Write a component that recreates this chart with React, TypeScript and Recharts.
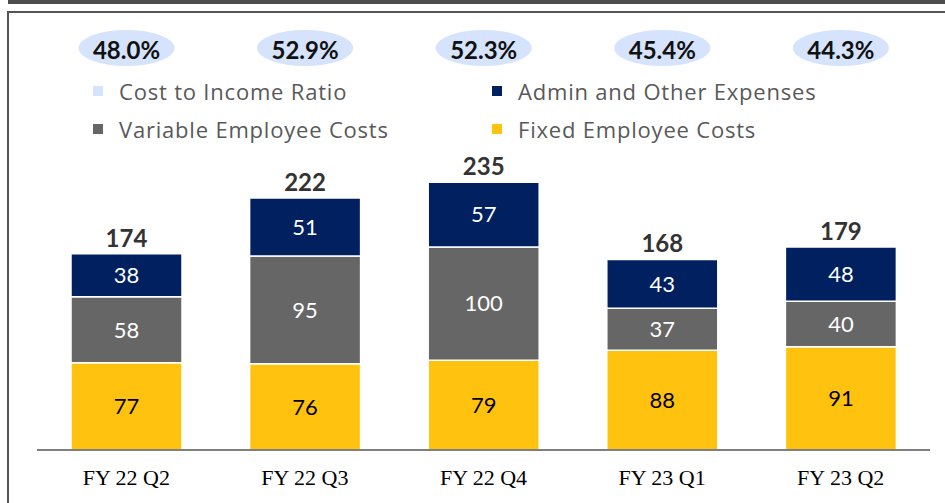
import React from 'react';
import { ComposedChart, Bar, XAxis, YAxis, LabelList } from 'recharts';

const quarters = ['FY 22 Q2', 'FY 22 Q3', 'FY 22 Q4', 'FY 23 Q1', 'FY 23 Q2'];
const fixedCosts = [77, 76, 79, 88, 91];
const variableCosts = [58, 95, 100, 37, 40];
const adminCosts = [38, 51, 57, 43, 48];
const totals = [174, 222, 235, 168, 179];
const costIncomeRatio = ['48.0%', '52.9%', '52.3%', '45.4%', '44.3%'];

const legendItems = [
  { name: 'Cost to Income Ratio', color: '#D6E3FD' },
  { name: 'Admin and Other Expenses', color: '#002060' },
  { name: 'Variable Employee Costs', color: '#666666' },
  { name: 'Fixed Employee Costs', color: '#FFC20E' },
];

const chartData = quarters.map((q, i) => ({
  quarter: q,
  fixed: fixedCosts[i],
  variable: variableCosts[i],
  admin: adminCosts[i],
  total: totals[i],
  ratio: costIncomeRatio[i],
}));

const numFont = 'Lato, "Open Sans", sans-serif';

const RatioBubble = (props: any) => {
  const vb = props.viewBox || {};
  const x = props.x ?? vb.x;
  const width = props.width ?? vb.width;
  const cx = x + width / 2;
  const cy = 48;
  return (
    <g>
      <ellipse cx={cx} cy={cy} rx={48} ry={18} fill="#D6E3FD" />
      <text
        x={cx}
        y={cy + 1}
        textAnchor="middle"
        dominantBaseline="central"
        fontFamily={numFont}
        fontWeight={700}
        fontSize={24}
        fill="#111"
      >
        {props.value}
      </text>
    </g>
  );
};

const Legend2x2 = () => (
  <div
    style={{
      position: 'absolute',
      left: 93,
      top: 76,
      width: 780,
      display: 'grid',
      gridTemplateColumns: '399px 380px',
      rowGap: 8,
      fontFamily: '"Open Sans", sans-serif',
      fontSize: 22,
      letterSpacing: 0.8,
      color: '#595959',
    }}
  >
    {legendItems.map((it) => (
      <div key={it.name} style={{ display: 'flex', alignItems: 'center', height: 30 }}>
        <span style={{ width: 10, height: 10, background: it.color, marginRight: 16 }} />
        <span>{it.name}</span>
      </div>
    ))}
  </div>
);

export default function App() {
  return (
    <div style={{ position: 'absolute', left: 0, top: 0, width: 945, height: 503, background: '#fff', overflow: 'hidden' }}>
      <div style={{ position: 'absolute', left: 8, top: 0, width: 937, height: 4, background: '#4D4D4D' }} />
      <div style={{ position: 'absolute', left: 7, top: 11, width: 938, height: 2, background: '#555' }} />
      <div style={{ position: 'absolute', left: 7, top: 11, width: 2, height: 492, background: '#555' }} />
      <Legend2x2 />
      <ComposedChart
        width={945}
        height={503}
        data={chartData}
        margin={{ top: 155, right: 15, left: 37, bottom: 13 }}
        style={{ position: 'absolute', left: 0, top: 0 }}
      >
        <XAxis
          dataKey="quarter"
          height={40}
          tickLine={false}
          axisLine={{ stroke: '#7F7F7F', strokeWidth: 2 }}
          tickMargin={13}
          tick={{ fill: '#000', fontSize: 22, fontFamily: '"Liberation Serif", serif' }}
        />
        <YAxis hide domain={[0, 260]} />
        <Bar dataKey="fixed" stackId="a" fill="#FFC20E" stroke="#fff" strokeWidth={1.5} barSize={111} isAnimationActive={false}>
          <LabelList dataKey="fixed" position="center" fill="#000" fontSize={22} fontFamily={numFont} />
        </Bar>
        <Bar dataKey="variable" stackId="a" fill="#666666" stroke="#fff" strokeWidth={1.5} barSize={111} isAnimationActive={false}>
          <LabelList dataKey="variable" position="center" fill="#fff" fontSize={22} fontFamily={numFont} />
        </Bar>
        <Bar dataKey="admin" stackId="a" fill="#002060" stroke="#fff" strokeWidth={1.5} barSize={111} isAnimationActive={false}>
          <LabelList dataKey="admin" position="center" fill="#fff" fontSize={22} fontFamily={numFont} />
          <LabelList dataKey="total" position="top" offset={7} fill="#333" fontSize={24} fontWeight={700} fontFamily={numFont} />
          <LabelList dataKey="ratio" content={RatioBubble} />
        </Bar>
      </ComposedChart>
    </div>
  );
}
